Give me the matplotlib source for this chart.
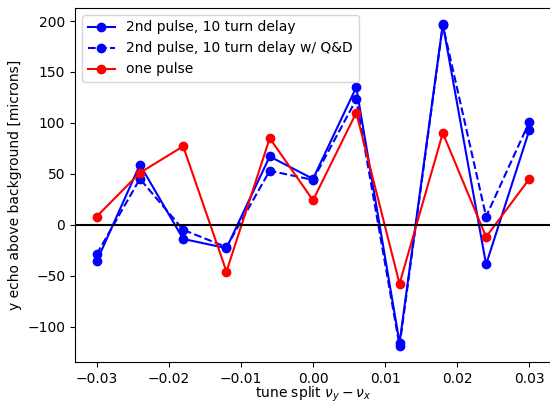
import matplotlib
matplotlib.use("Agg")
import matplotlib.pyplot as plt

tune_split = [-0.030, -0.024, -0.018, -0.012, -0.006, 0.000, 0.006, 0.012, 0.018, 0.024, 0.030]
second_pulse = [-36, 59, -14, -23, 67, 45, 135, -116, 197, -39, 93]
second_pulse_qd = [-29, 45, -5, -22, 53, 44, 123, -119, 196, 8, 101]
one_pulse = [8, 51, 77, -46, 85, 24, 110, -58, 90, -12, 45]

fig = plt.figure(figsize=(5.5, 4.04), dpi=100)
ax = fig.add_axes([75/550, 1 - 362/404, 476/550, 354/404])

ax.plot(tune_split, second_pulse, 'o-', color='blue', label='2nd pulse, 10 turn delay')
ax.plot(tune_split, second_pulse_qd, 'o--', color='blue', label='2nd pulse, 10 turn delay w/ Q&D')
ax.plot(tune_split, one_pulse, 'o-', color='red', label='one pulse')
ax.axhline(0, color='black', lw=1.5)

ax.set_xlabel(r'tune split $\nu_y - \nu_x$', labelpad=-1)
ax.set_ylabel('y echo above background [microns]')
ax.legend(loc='upper left')

fig.savefig('out.png', dpi=100)
